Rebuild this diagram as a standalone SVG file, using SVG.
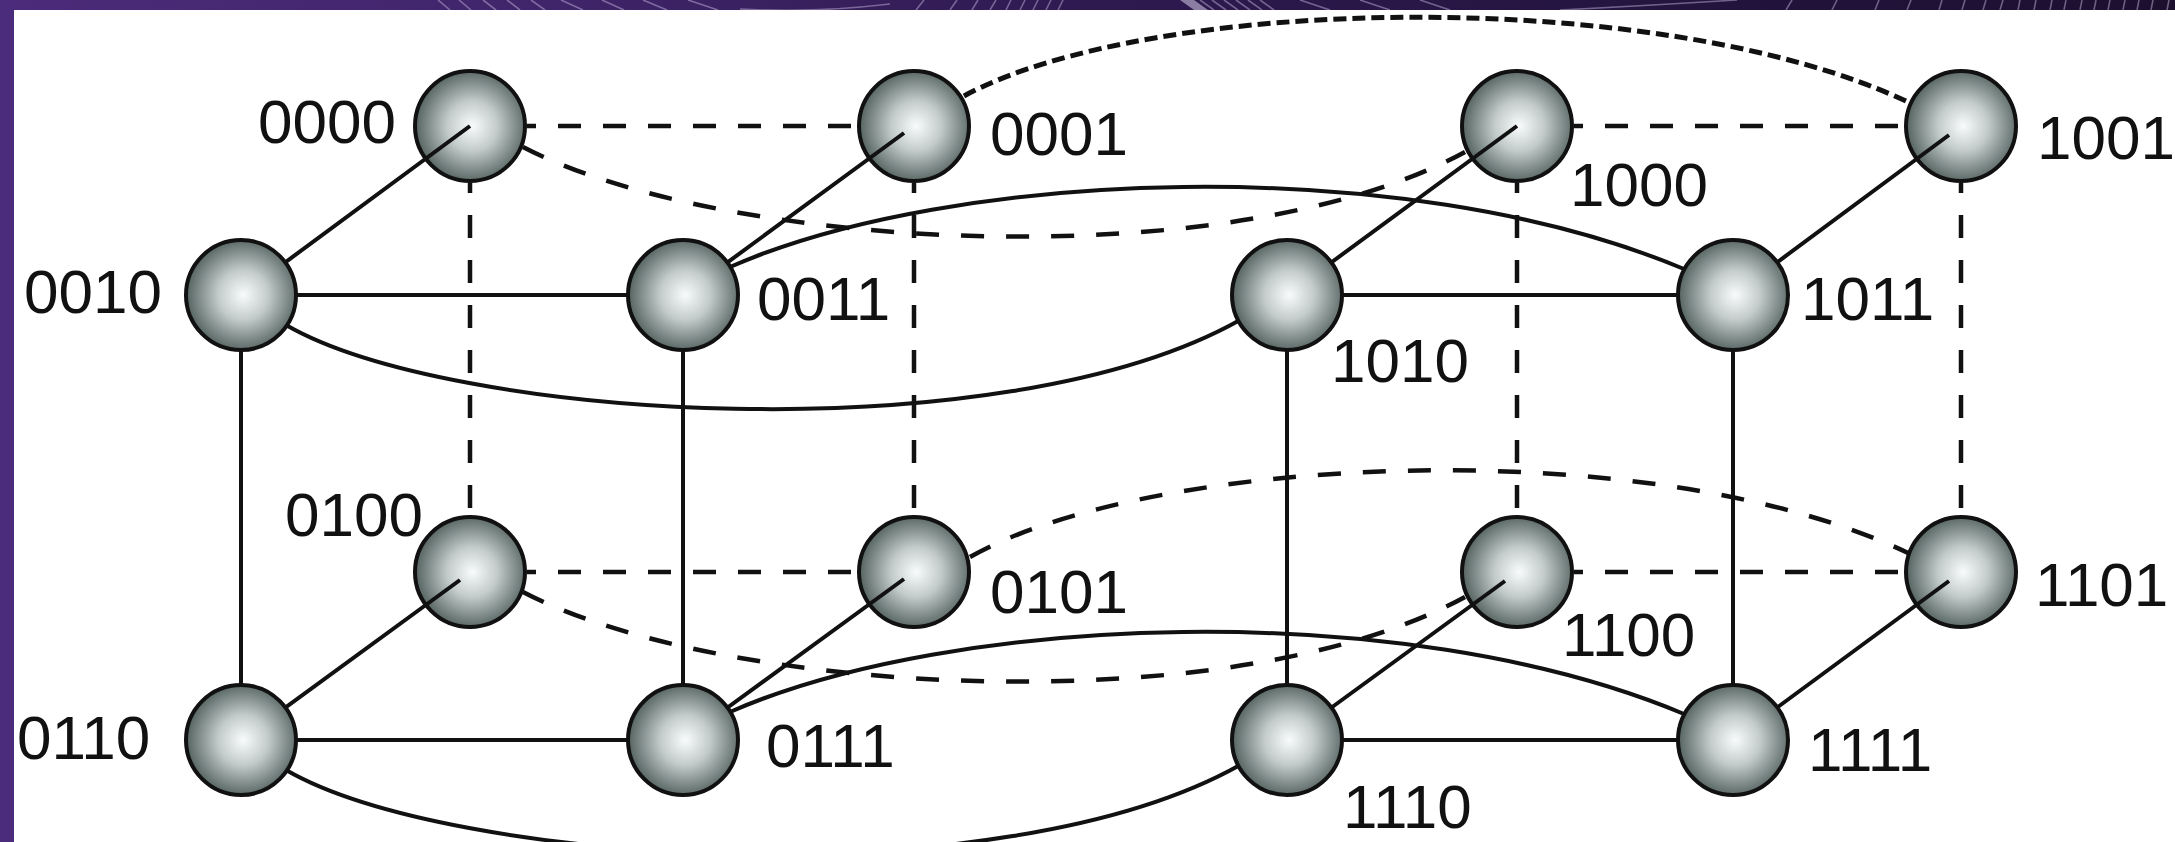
<svg xmlns="http://www.w3.org/2000/svg" width="2175" height="842" viewBox="0 0 2175 842">
  <defs>
    <radialGradient id="ball" cx="0.52" cy="0.5" r="0.5">
      <stop offset="0" stop-color="#f9fbfb"/>
      <stop offset="0.45" stop-color="#c3cccb"/>
      <stop offset="1" stop-color="#5b6967"/>
    </radialGradient>
    <linearGradient id="bandGrad" x1="0" y1="0" x2="1" y2="0">
      <stop offset="0" stop-color="#4b2b7a"/>
      <stop offset="0.25" stop-color="#40256a"/>
      <stop offset="0.5" stop-color="#2f1a50"/>
      <stop offset="0.75" stop-color="#241440"/>
      <stop offset="1" stop-color="#1c0f2e"/>
    </linearGradient>
    <clipPath id="bandClip">
      <rect x="0" y="0" width="2175" height="10"/>
    </clipPath>
    <style>
      .ball { fill: url(#ball); stroke: #111; stroke-width: 4; }
      .lbl { font-family: "Liberation Sans", Arial, sans-serif; font-size: 62px; fill: #111; }
      .edge { fill: none; stroke: #111; stroke-width: 4; }
      .dash { stroke-dasharray: 23 22; stroke-width: 4.5; }
      .dot { stroke-dasharray: 13 6; stroke-width: 5; }
      .streak { fill: none; stroke: #cfc3e6; stroke-width: 1.6; opacity: 0.45; }
    </style>
  </defs>

  <!-- page -->
  <rect x="0" y="0" width="2175" height="842" fill="#ffffff"/>

  <!-- slide frame: top strip and left strip -->
  <g id="frame">
    <rect x="0" y="0" width="2175" height="10" fill="url(#bandGrad)"/>
    <rect x="0" y="0" width="14" height="842" fill="#4b2b7b"/>
    <g clip-path="url(#bandClip)">
      <path class="streak" d="M438 0 l12 10 M459 0 l12 10 M483 0 l13 10 M507 0 l13 10 M531 0 l14 10
        M561 0 l22 10 M602 0 l22 10 M643 0 l24 10 M688 0 l30 10
        M740 9 Q815 13 890 4
        M916 10 l8 -10 M950 10 l7 -10 M972 10 l6 -10 M990 10 l6 -10 M1006 10 l5 -10 M1020 10 l5 -10 M1033 10 l5 -10 M1046 10 l5 -10 M1058 10 l5 -10
        M1200 0 l14 10 M1212 0 l14 10 M1224 0 l14 10 M1236 0 l14 10 M1248 0 l14 10 M1260 0 l14 10
        M1300 0 l30 10 M1360 0 l30 10 M1420 0 l30 10
        M1560 10 Q1640 6 1737 0
        M1786 10 l6 -10 M1832 10 l5 -10 M1875 10 l4 -10 M1907 10 l4 -10 M1939 10 l3 -10 M1962 10 l3 -10 M1983 10 l3 -10 M2000 10 l3 -10 M2018 10 l2 -10 M2034 10 l2 -10 M2050 10 l2 -10 M2064 10 l2 -10 M2080 10 l2 -10 M2094 10 l2 -10 M2108 10 l2 -10 M2123 10 l2 -10 M2137 10 l2 -10 M2151 10 l2 -10 M2167 10 l2 -10"/>
      <path d="M1180 0 L1194 0 L1208 10 L1194 10 Z" fill="#d8d0ea" opacity="0.55"/>
    </g>
  </g>

  <!-- back layer of both cubes -->
  <g id="node-0000"><circle class="ball" cx="470" cy="126" r="55"/><text class="lbl" x="258" y="143">0000</text></g>
  <g id="node-0001"><circle class="ball" cx="914" cy="126" r="55"/><text class="lbl" x="990" y="155">0001</text></g>
  <g id="node-1000"><circle class="ball" cx="1517" cy="126" r="55"/><text class="lbl" x="1570" y="206">1000</text></g>
  <g id="node-1001"><circle class="ball" cx="1961" cy="126" r="55"/><text class="lbl" x="2037" y="159">1001</text></g>
  <g id="node-0100"><circle class="ball" cx="470" cy="572" r="55"/><text class="lbl" x="285" y="536">0100</text></g>
  <g id="node-0101"><circle class="ball" cx="914" cy="572" r="55"/><text class="lbl" x="990" y="613">0101</text></g>
  <g id="node-1100"><circle class="ball" cx="1517" cy="572" r="55"/><text class="lbl" x="1562" y="656">1100</text></g>
  <g id="node-1101"><circle class="ball" cx="1961" cy="572" r="55"/><text class="lbl" x="2035" y="606">1101</text></g>

  <!-- links -->
  <g id="connectors">
    <!-- front faces, solid -->
    <path class="edge" d="M241 295 H683 M1287 295 H1733 M241 740 H683 M1287 740 H1733"/>
    <path class="edge" d="M241 295 V740 M683 295 V740 M1287 295 V740 M1733 295 V740"/>
    <!-- depth edges, solid -->
    <path class="edge" d="M241 295 L470 126 M683 295 L904 133 M1287 295 L1517 126 M1733 295 L1949 135"/>
    <path class="edge" d="M241 740 L460 580 M683 740 L904 579 M1287 740 L1505 581 M1733 740 L1949 581"/>
    <!-- back faces, dashed -->
    <path class="edge dash" stroke-dashoffset="14" d="M527 126 H857 M1574 126 H1904 M527 572 H857 M1574 572 H1904"/>
    <path class="edge dash" stroke-dashoffset="13" d="M470 183 V515 M914 183 V515 M1517 183 V515 M1961 183 V515"/>
    <!-- links between the two cubes -->
    <path class="edge dash" d="M523 147 C720 250 1230 280 1465 152"/>
    <path class="edge dash" d="M523 592 C720 695 1230 725 1465 597"/>
    <path class="edge dot" d="M964 96 C1150 -5 1660 -15 1908 102"/>
    <path class="edge dash" d="M970 557 C1150 455 1650 430 1908 553"/>
    <path class="edge" d="M286 325 C450 420 1000 455 1240 320"/>
    <path class="edge" d="M286 770 C450 865 1000 900 1240 765"/>
    <path class="edge" d="M730 267 C950 170 1400 150 1684 269"/>
    <path class="edge" d="M730 712 C950 615 1400 595 1684 714"/>
  </g>

  <!-- front layer of both cubes -->
  <g id="node-0010"><circle class="ball" cx="241" cy="295" r="55"/><text class="lbl" x="24" y="313">0010</text></g>
  <g id="node-0011"><circle class="ball" cx="683" cy="295" r="55"/><text class="lbl" x="757" y="320">0011</text></g>
  <g id="node-1010"><circle class="ball" cx="1287" cy="295" r="55"/><text class="lbl" x="1331" y="382">1010</text></g>
  <g id="node-1011"><circle class="ball" cx="1733" cy="295" r="55"/><text class="lbl" x="1801" y="320">1011</text></g>
  <g id="node-0110"><circle class="ball" cx="241" cy="740" r="55"/><text class="lbl" x="17" y="759">0110</text></g>
  <g id="node-0111"><circle class="ball" cx="683" cy="740" r="55"/><text class="lbl" x="766" y="767">0111</text></g>
  <g id="node-1110"><circle class="ball" cx="1287" cy="740" r="55"/><text class="lbl" x="1343" y="828">1110</text></g>
  <g id="node-1111"><circle class="ball" cx="1733" cy="740" r="55"/><text class="lbl" x="1808" y="771">1111</text></g>
</svg>
